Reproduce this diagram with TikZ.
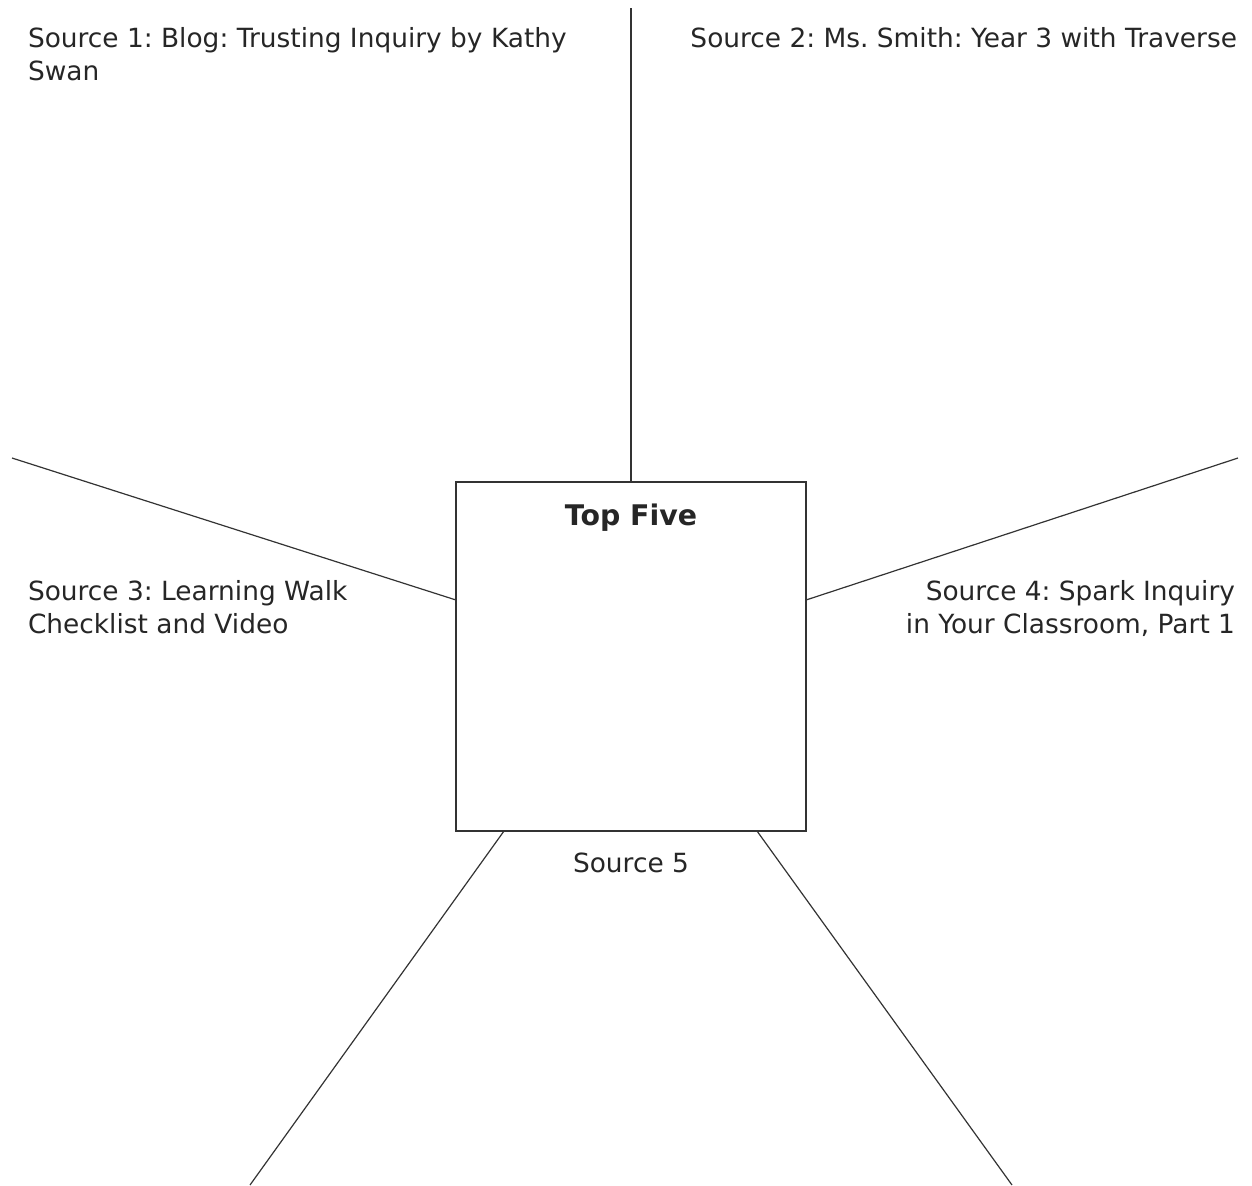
\documentclass[tikz,border=0pt]{standalone}
\usepackage{fontspec}
\setmainfont{DejaVu Sans}
\frenchspacing
\usetikzlibrary{positioning}
\definecolor{linegray}{HTML}{333333}

\begin{document}
\begin{tikzpicture}[x=0.5pt,y=-0.5pt]
  \tikzset{BoxStyle/.style = {
    shape         = rectangle,
    draw          = linegray,
    fill          = white,
    line width    = 0.8pt,
    inner sep     = 0pt,
    outer sep     = 0pt,
    minimum width = 175pt,
    minimum height= 174.5pt
    }
  }
  \tikzset{LabelStyle/.style = {
    inner sep     = 0pt,
    outer sep     = 0pt,
    text          = black!85,
    font          = \fontsize{13.2}{16.5}\selectfont
    }
  }
  \tikzset{SpokeStyle/.style = {
    draw          = linegray,
    line width    = 0.6pt
    }
  }

  \useasboundingbox (0,0) rectangle (1252,1185);

  \node[BoxStyle](Box) at (631, 656.5) {};
  \node[LabelStyle, font=\fontsize{14.2}{18}\selectfont\bfseries, below=11pt of Box.north](Title) {Top Five};
  %
  \coordinate (E1) at (631, 8);
  \coordinate (E2) at (12, 458);
  \coordinate (E3) at (1238, 458);
  \coordinate (E4) at (250, 1185);
  \coordinate (E5) at (1012, 1185);
  %
  \node[LabelStyle, anchor=north west, align=left](S1) at (28, 27) {Source 1: Blog: Trusting Inquiry by Kathy\\Swan};
  \node[LabelStyle, anchor=north east, align=right](S2) at (1237, 27) {Source 2: Ms. Smith: Year 3 with Traverse};
  \node[LabelStyle, anchor=north west, align=left](S3) at (28, 580) {Source 3: Learning Walk\\Checklist and Video};
  \node[LabelStyle, anchor=north east, align=right](S4) at (1235, 580) {Source 4: Spark Inquiry\\in Your Classroom, Part 1};
  \node[LabelStyle, below=11pt of Box.south](S5) {Source 5};
  %
  \draw[SpokeStyle](Box.north) -- (E1);
  \draw[SpokeStyle]([yshift=28.25pt]Box.west) -- (E2);
  \draw[SpokeStyle]([yshift=28.25pt]Box.east) -- (E3);
  \draw[SpokeStyle]([xshift=-63.5pt]Box.south) -- (E4);
  \draw[SpokeStyle]([xshift=63pt]Box.south) -- (E5);

\end{tikzpicture}
\end{document}
